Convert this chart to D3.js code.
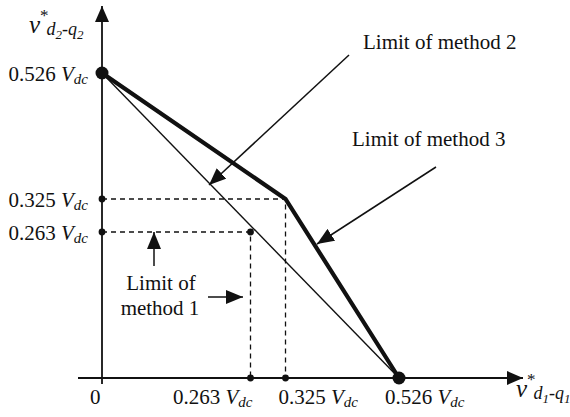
<!DOCTYPE html>
<html><head><meta charset="utf-8">
<script src="https://cdn.jsdelivr.net/npm/d3@7"></script>
<style>
html,body{margin:0;padding:0;background:#fff;}
svg text{font-family:"Liberation Serif","Times New Roman",serif;fill:#111;}
</style></head>
<body>
<svg id="c" width="570" height="417"></svg>
<script>
// ---- data ----
const tickValues = [0.263, 0.325, 0.526];
const tickLabels = ["0.263", "0.325", "0.526"];
const unitLabel = "V";
const unitSub = "dc";
const method1Line = [[0, 0.526], [0.526, 0]];
const method23Line = [[0, 0.526], [0.325, 0.325], [0.526, 0]];
const method1Point = [0.263, 0.263];
const cornerPoint = [0.325, 0.325];
const endPoints = [[0, 0.526], [0.526, 0]];
const labelMethod2 = "Limit of method 2";
const labelMethod3 = "Limit of method 3";
const labelMethod1 = ["Limit of", "method 1"];

// ---- scales ----
const x = d3.scaleLinear().domain([0, 0.526]).range([102, 399]);
const y = d3.scaleLinear().domain([0, 0.263, 0.325, 0.526]).range([378, 232, 199, 73]);

const svg = d3.select("#c");
const ink = "#111";

// arrow marker
const defs = svg.append("defs");
function marker(id, w, h) {
  defs.append("marker").attr("id", id).attr("viewBox", `0 0 ${w} ${h}`)
    .attr("refX", w).attr("refY", h / 2).attr("markerWidth", w).attr("markerHeight", h)
    .attr("markerUnits", "userSpaceOnUse").attr("orient", "auto")
    .append("path").attr("d", `M0,0L${w},${h/2}L0,${h}Z`).attr("fill", ink);
}
marker("ah", 17, 14);
marker("axh", 16, 14);

// axes
svg.append("line").attr("x1", 78).attr("y1", y(0)).attr("x2", 523).attr("y2", y(0))
  .attr("stroke", ink).attr("stroke-width", 1.8).attr("marker-end", "url(#axh)");
svg.append("line").attr("x1", x(0)).attr("y1", 384).attr("x2", x(0)).attr("y2", 6)
  .attr("stroke", ink).attr("stroke-width", 1.8).attr("marker-end", "url(#axh)");

// dashed guides
const dash = "5,4";
[method1Point, cornerPoint].forEach(p => {
  svg.append("path")
    .attr("d", `M${x(0)},${y(p[1])}H${x(p[0])}V${y(0)}`)
    .attr("fill", "none").attr("stroke", ink).attr("stroke-width", 1.3)
    .attr("stroke-dasharray", dash);
});

const line = d3.line().x(d => x(d[0])).y(d => y(d[1]));
svg.append("path").attr("d", line(method1Line)).attr("fill", "none")
  .attr("stroke", ink).attr("stroke-width", 1.4);
svg.append("path").attr("d", line(method23Line)).attr("fill", "none")
  .attr("stroke", ink).attr("stroke-width", 4.2).attr("stroke-linejoin", "miter");

// small dots
const small = [];
tickValues.slice(0, 2).forEach(v => { small.push([v, 0]); small.push([0, v]); });
small.push(method1Point);
svg.selectAll("circle.s").data(small).enter().append("circle")
  .attr("cx", d => x(d[0])).attr("cy", d => y(d[1])).attr("r", 3.4).attr("fill", ink);
svg.selectAll("circle.b").data(endPoints).enter().append("circle")
  .attr("cx", d => x(d[0])).attr("cy", d => y(d[1])).attr("r", 6.5).attr("fill", ink);

// tick labels helper
const fs = 21;
function valLabel(tx, ty, anchor, txt) {
  const t = svg.append("text").attr("x", tx).attr("y", ty).attr("font-size", fs).attr("text-anchor", anchor);
  t.append("tspan").text(txt + " ");
  t.append("tspan").attr("font-style", "italic").text(unitLabel);
  t.append("tspan").attr("font-style", "italic").attr("font-size", 15).attr("dy", 3).text(unitSub);
  return t;
}
// y tick labels
tickValues.forEach((v, i) => valLabel(88, y(v) + 8, "end", tickLabels[i]));
// x tick labels
valLabel(x(tickValues[0]) + 2, 404, "end", tickLabels[0]);
valLabel(x(tickValues[1]) - 7, 404, "start", tickLabels[1]);
valLabel(x(tickValues[2]) - 14, 404, "start", tickLabels[2]);
svg.append("text").attr("x", 90).attr("y", 404).attr("font-size", fs).text("0");

// axis titles
function axTitle(tx, ty, a, b) {
  const t = svg.append("text").attr("x", tx).attr("y", ty).attr("font-style", "italic").attr("font-size", 25);
  t.append("tspan").text("v");
  t.append("tspan").attr("font-size", 17).attr("font-style", "normal").attr("dy", -12).attr("dx", 0).text("*");
  t.append("tspan").attr("font-size", 18).attr("dy", 14).attr("dx", -2).text("d");
  t.append("tspan").attr("font-size", 13).attr("dy", 4).text(a);
  t.append("tspan").attr("font-size", 18).attr("dy", -4).text("-q");
  t.append("tspan").attr("font-size", 13).attr("dy", 4).text(b);
}
axTitle(29, 33, "2", "2");
axTitle(516, 397, "1", "1");

// annotations
const afs = 21;
svg.append("text").attr("x", 363).attr("y", 49).attr("font-size", afs).text(labelMethod2);
svg.append("text").attr("x", 352).attr("y", 146).attr("font-size", afs).text(labelMethod3);
svg.append("text").attr("x", 161).attr("y", 290).attr("font-size", afs).attr("text-anchor", "middle").text(labelMethod1[0]);
svg.append("text").attr("x", 160).attr("y", 315).attr("font-size", afs).attr("text-anchor", "middle").text(labelMethod1[1]);

const arrows = [
  [349, 55, 209, 185],
  [436, 167, 317, 244],
  [208, 297, 243, 297],
  [154, 266, 154, 232]
];
arrows.forEach(a => svg.append("line").attr("x1", a[0]).attr("y1", a[1]).attr("x2", a[2]).attr("y2", a[3])
  .attr("stroke", ink).attr("stroke-width", 1.5).attr("marker-end", "url(#ah)"));
</script>
</body></html>
